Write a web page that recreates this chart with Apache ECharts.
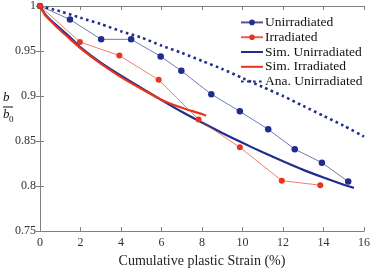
<!DOCTYPE html>
<html><head><meta charset="utf-8">
<script src="https://cdn.jsdelivr.net/npm/echarts@6/dist/echarts.min.js"></script>
<style>html,body{margin:0;padding:0;background:#fff}#c{width:373px;height:273px}</style>
</head><body><div id="c"></div>
<script>
// Measured data
var unirrX = [0, 1.48, 3.02, 4.5, 5.96, 6.98, 8.46, 9.87, 11.27, 12.58, 13.92, 15.22];
var unirrY = [1, 0.985, 0.963, 0.963, 0.944, 0.928, 0.902, 0.883, 0.863, 0.841, 0.826, 0.805];
var irrX = [0, 1.97, 3.92, 5.86, 7.83, 9.87, 11.94, 13.84];
var irrY = [1, 0.960, 0.945, 0.918, 0.874, 0.843, 0.806, 0.801];
var simUnX = [0, 0.25, 0.5, 1, 1.5, 2, 3, 4, 5, 6, 7, 8, 9, 10, 11, 12, 13, 14, 15, 15.5];
var simUnY = [1, 0.991, 0.985, 0.975, 0.965, 0.954, 0.937, 0.9225, 0.909, 0.8955, 0.8825, 0.8705, 0.859, 0.848, 0.8375, 0.8275, 0.818, 0.8095, 0.8015, 0.798];
var simIrX = [0, 0.25, 0.5, 1, 1.5, 2, 3, 4, 5, 6, 7, 8, 8.2];
var simIrY = [1, 0.990, 0.984, 0.973, 0.963, 0.953, 0.936, 0.921, 0.908, 0.896, 0.887, 0.880, 0.878];
var anaX = [0, 1, 2, 3, 4, 5, 6, 7, 8, 9, 10, 11, 12, 13, 14, 15, 16];
var anaY = [1, 0.994, 0.987, 0.980, 0.972, 0.965, 0.956, 0.948, 0.939, 0.930, 0.920, 0.910, 0.900, 0.889, 0.878, 0.867, 0.855];
var xTicks = [0, 2, 4, 6, 8, 10, 12, 14, 16];
var yTicks = [0.75, 0.8, 0.85, 0.9, 0.95, 1];
var names = ['Unirradiated', 'Irradiated', 'Sim. Unirradiated', 'Sim. Irradiated', 'Ana. Unirradiated'];

function pairs(xs, ys) { return xs.map(function (x, i) { return [x, ys[i]]; }); }
var BLUE = '#1f2d8c', RED = '#e8341c', AX = '#808080';
var serif = '"Liberation Serif", "DejaVu Serif", serif';

var chart = echarts.init(document.getElementById('c'));
var axisCommon = {
  axisLine: { show: true, lineStyle: { color: AX, width: 1 } },
  axisTick: { show: true, inside: true, length: 4, lineStyle: { color: AX } },
  splitLine: { show: false }
};
chart.setOption({
  animation: false,
  grid: { left: 40, right: 8, top: 4, bottom: 35 },
  xAxis: [
    Object.assign({ type: 'value', min: 0, max: 16, interval: 2, position: 'bottom',
      axisLabel: { color: '#333', fontFamily: serif, fontSize: 12, margin: 6,
        formatter: function (v) { return xTicks.indexOf(v) >= 0 ? String(v) : ''; } },
      name: 'Cumulative plastic Strain (%)', nameLocation: 'middle', nameGap: 22,
      nameTextStyle: { color: '#222', fontFamily: serif, fontSize: 14 } }, axisCommon),
    Object.assign({ type: 'value', min: 0, max: 16, interval: 2, position: 'top',
      axisLabel: { show: false } }, axisCommon)
  ],
  yAxis: [
    Object.assign({ type: 'value', min: 0.75, max: 1, interval: 0.05, position: 'left',
      axisLabel: { color: '#333', fontFamily: serif, fontSize: 12, margin: 4,
        formatter: function (v) { return String(Math.round(v * 100) / 100); } } }, axisCommon),
    Object.assign({ type: 'value', min: 0.75, max: 1, interval: 0.05, position: 'right',
      axisLabel: { show: false } }, axisCommon)
  ],
  legend: {
    left: 240, top: 15, orient: 'vertical', itemWidth: 22, itemHeight: 7, itemGap: 0,
    padding: 0,
    textStyle: { fontFamily: serif, fontSize: 13.5, lineHeight: 14.8, color: '#111', padding: [0, 0, 0, -3] },
    data: [
      { name: names[0] },
      { name: names[1] },
      { name: names[2], itemStyle: { opacity: 0 } },
      { name: names[3], itemStyle: { opacity: 0 } },
      { name: names[4], itemStyle: { opacity: 0 } }
    ]
  },
  graphic: [
    { type: 'text', left: 3, top: 91, style: { text: 'b', font: 'italic 13px ' + serif, fill: '#111' } },
    { type: 'line', shape: { x1: 3, y1: 107, x2: 13, y2: 107 }, style: { stroke: '#111', lineWidth: 1 } },
    { type: 'text', left: 3, top: 108, style: { text: 'b', font: 'italic 13px ' + serif, fill: '#111' } },
    { type: 'text', left: 9, top: 115, style: { text: '0', font: '9px ' + serif, fill: '#111' } }
  ],
  series: [
    { name: names[0], type: 'line', data: pairs(unirrX, unirrY), symbol: 'circle', symbolSize: 6.5,
      lineStyle: { color: BLUE, width: 0.8, opacity: 0.8 }, itemStyle: { color: BLUE }, z: 3 },
    { name: names[1], type: 'line', data: pairs(irrX, irrY), symbol: 'circle', symbolSize: 6,
      lineStyle: { color: RED, width: 0.8, opacity: 0.8 }, itemStyle: { color: RED }, z: 3 },
    { name: names[2], type: 'line', data: pairs(simUnX, simUnY), symbol: 'none', smooth: 0.25,
      lineStyle: { color: BLUE, width: 2.2 }, itemStyle: { color: BLUE }, z: 2 },
    { name: names[3], type: 'line', data: pairs(simIrX, simIrY), symbol: 'none', smooth: 0.25,
      lineStyle: { color: RED, width: 2.2 }, itemStyle: { color: RED }, z: 2 },
    { name: names[4], type: 'line', data: pairs(anaX, anaY), symbol: 'none', smooth: 0.25,
      lineStyle: { color: BLUE, width: 2.6, type: [2.6, 3.4] }, itemStyle: { color: BLUE }, z: 2 }
  ]
});
</script></body></html>
